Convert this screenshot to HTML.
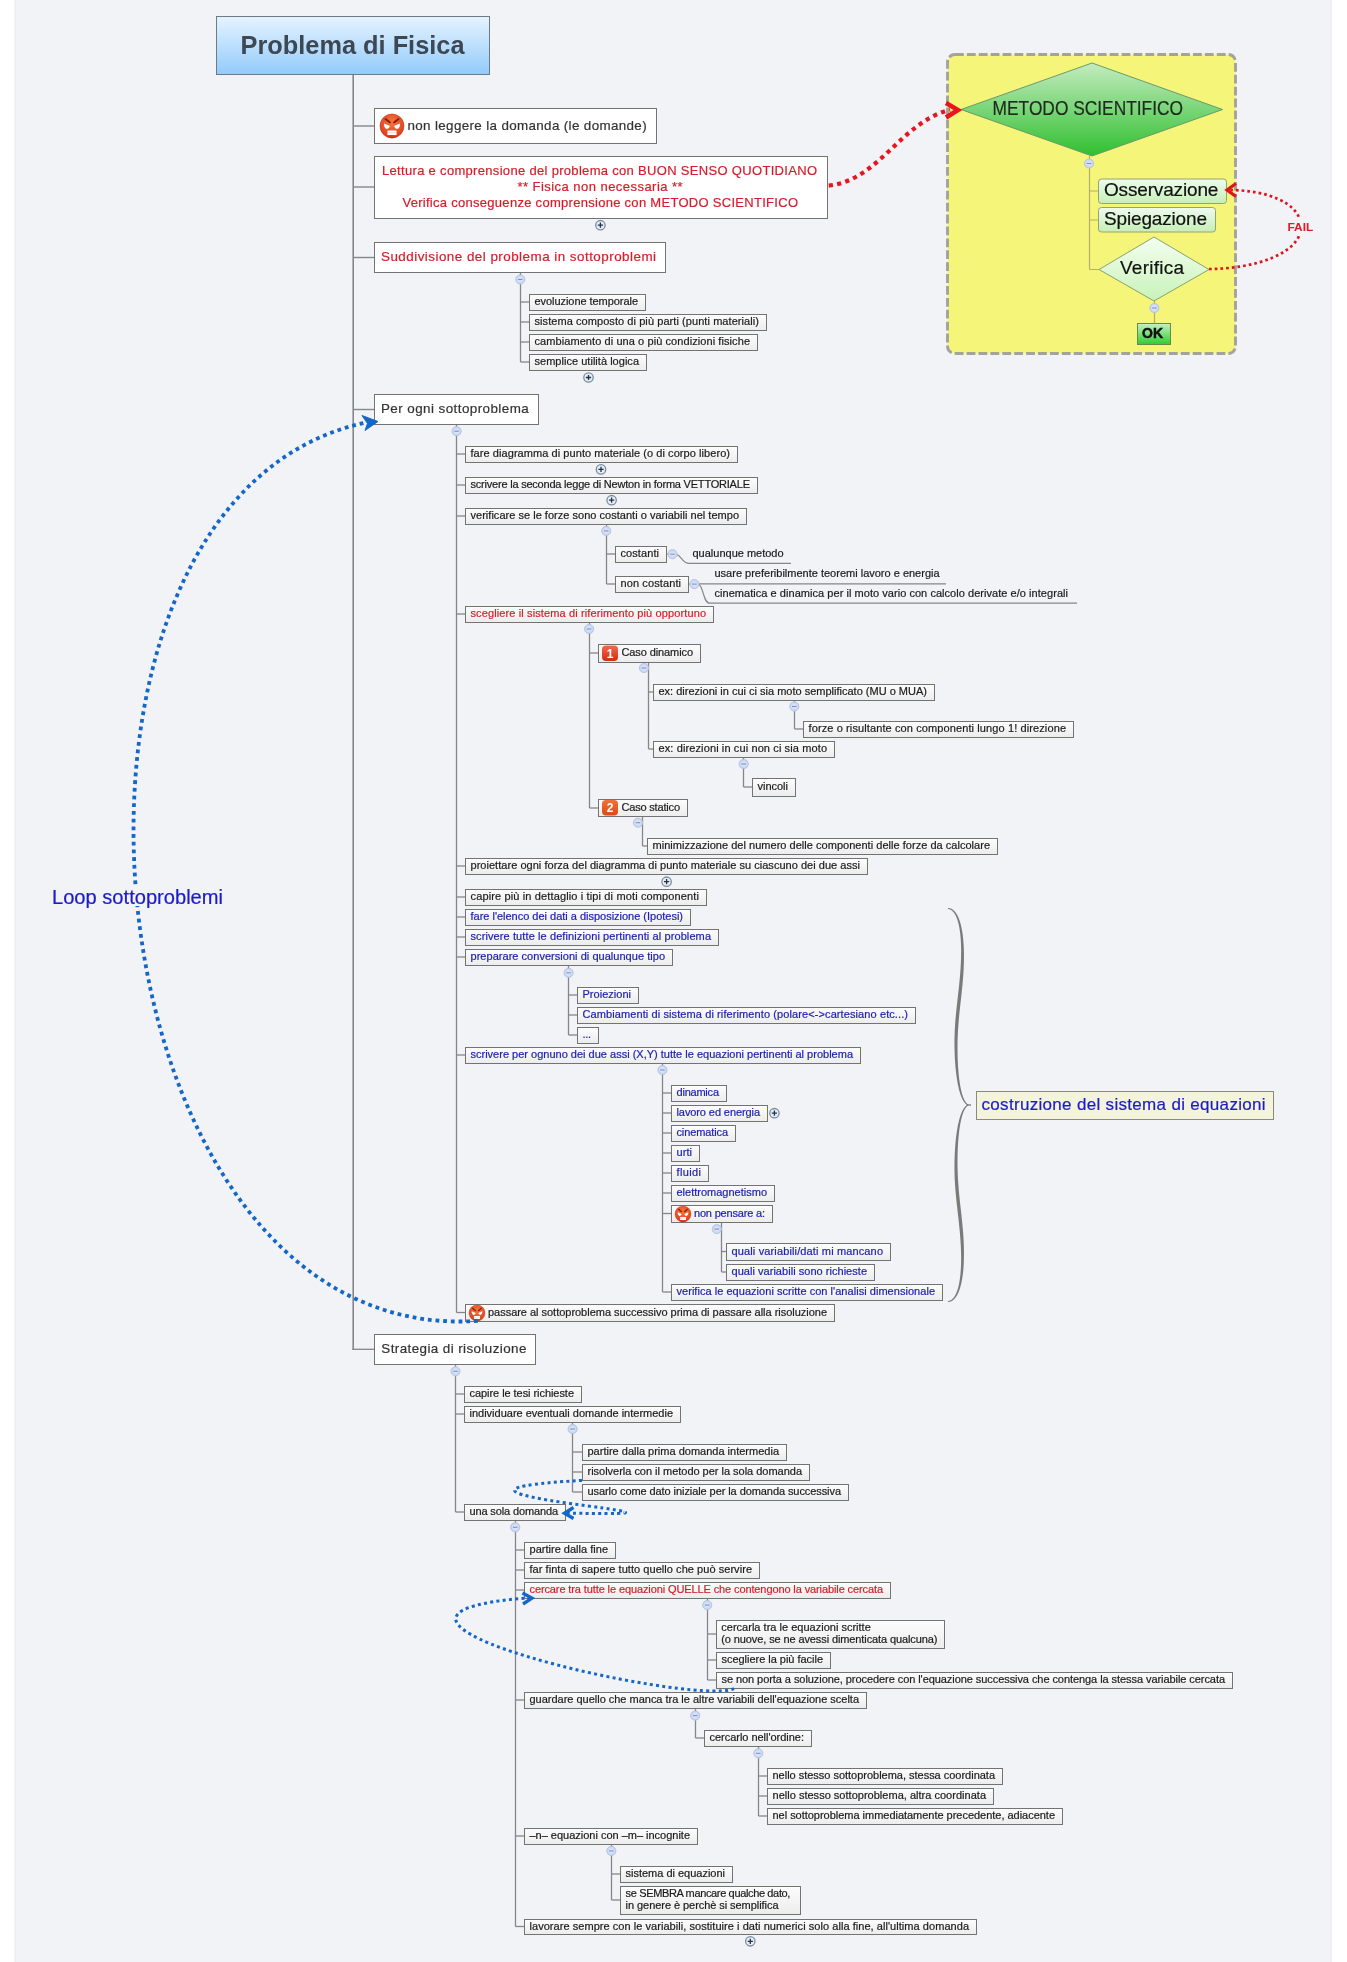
<!DOCTYPE html><html><head><meta charset="utf-8"><style>
html,body{margin:0;padding:0;background:#fff;}
body{width:1347px;height:1962px;position:relative;overflow:hidden;font-family:"Liberation Sans", sans-serif;}
svg{position:absolute;left:0;top:0;will-change:transform;}
text{font-family:"Liberation Sans", sans-serif;}
</style></head><body>
<svg width="1347" height="1962" viewBox="0 0 1347 1962">
<defs>
<linearGradient id="gS" x1="0" y1="0" x2="0" y2="1"><stop offset="0" stop-color="#fdfdfd"/><stop offset="1" stop-color="#ececec"/></linearGradient>
<linearGradient id="gRoot" x1="0" y1="0" x2="0" y2="1"><stop offset="0" stop-color="#e6f3ff"/><stop offset="1" stop-color="#92cbfb"/></linearGradient>
<linearGradient id="gDia" x1="0" y1="0" x2="0" y2="1"><stop offset="0" stop-color="#c4ecc0"/><stop offset="1" stop-color="#2fbf2f"/></linearGradient>
<linearGradient id="gDia2" x1="0" y1="0" x2="0" y2="1"><stop offset="0" stop-color="#f4fff0"/><stop offset="1" stop-color="#c8f2b8"/></linearGradient>
<linearGradient id="gOss" x1="0" y1="0" x2="0" y2="1"><stop offset="0" stop-color="#eefbee"/><stop offset="1" stop-color="#c6efb6"/></linearGradient>
<linearGradient id="gOK" x1="0" y1="0" x2="0" y2="1"><stop offset="0" stop-color="#c4f2c4"/><stop offset="1" stop-color="#30cc30"/></linearGradient>
<linearGradient id="gBadge1" x1="0" y1="0" x2="0" y2="1"><stop offset="0" stop-color="#f46a4a"/><stop offset="1" stop-color="#d42a16"/></linearGradient>
<linearGradient id="gBadge2" x1="0" y1="0" x2="0" y2="1"><stop offset="0" stop-color="#f27236"/><stop offset="1" stop-color="#d84c12"/></linearGradient>
<radialGradient id="gEmo" cx="0.5" cy="0.35" r="0.65"><stop offset="0" stop-color="#f5793f"/><stop offset="1" stop-color="#dc3b1e"/></radialGradient>
<radialGradient id="gMinus" cx="0.5" cy="0.5" r="0.5"><stop offset="0" stop-color="#e4ecff"/><stop offset="1" stop-color="#c3d2f0"/></radialGradient>
<marker id="mRed" viewBox="0 0 10 10" refX="8" refY="5" markerWidth="10" markerHeight="10" markerUnits="userSpaceOnUse" orient="auto"><path d="M1,1 L9,5 L1,9" fill="none" stroke="#e8141e" stroke-width="2.6"/></marker>
</defs>
<rect x="14.5" y="0" width="1317" height="1962" fill="#f2f3f7"/><rect x="14.5" y="0" width="1" height="1962" fill="#ececef"/><rect x="1330.5" y="0" width="1" height="1962" fill="#ececef"/>

<rect x="947.5" y="54.5" width="288" height="299" rx="7.5" ry="7.5" fill="#f5f57a" stroke="#a3a29c" stroke-width="2.9" stroke-dasharray="8.8,3.1"/>
<line x1="353.2" y1="74" x2="353.2" y2="1350" stroke="#86868a" stroke-width="1.6"/>
<line x1="353" y1="126" x2="374" y2="126" stroke="#86868a" stroke-width="1.4"/>
<line x1="353" y1="187" x2="374" y2="187" stroke="#86868a" stroke-width="1.4"/>
<line x1="353" y1="257.5" x2="374" y2="257.5" stroke="#86868a" stroke-width="1.4"/>
<line x1="353" y1="409.5" x2="374" y2="409.5" stroke="#86868a" stroke-width="1.4"/>
<line x1="352.4" y1="1349.3" x2="374" y2="1349.3" stroke="#86868a" stroke-width="1.3"/>
<path d="M520.5,272 V362 " fill="none" stroke="#86868a" stroke-width="1.3"/>
<line x1="520.5" y1="302" x2="529" y2="302" stroke="#86868a" stroke-width="1.3"/>
<line x1="520.5" y1="322" x2="529" y2="322" stroke="#86868a" stroke-width="1.3"/>
<line x1="520.5" y1="342" x2="529" y2="342" stroke="#86868a" stroke-width="1.3"/>
<line x1="520.5" y1="362" x2="529" y2="362" stroke="#86868a" stroke-width="1.3"/>
<path d="M456.5,424 V1312.5 " fill="none" stroke="#86868a" stroke-width="1.3"/>
<line x1="456.5" y1="454" x2="465" y2="454" stroke="#86868a" stroke-width="1.3"/>
<line x1="456.5" y1="485" x2="465" y2="485" stroke="#86868a" stroke-width="1.3"/>
<line x1="456.5" y1="516" x2="465" y2="516" stroke="#86868a" stroke-width="1.3"/>
<line x1="456.5" y1="614" x2="465" y2="614" stroke="#86868a" stroke-width="1.3"/>
<line x1="456.5" y1="866" x2="465" y2="866" stroke="#86868a" stroke-width="1.3"/>
<line x1="456.5" y1="897" x2="465" y2="897" stroke="#86868a" stroke-width="1.3"/>
<line x1="456.5" y1="917" x2="465" y2="917" stroke="#86868a" stroke-width="1.3"/>
<line x1="456.5" y1="937" x2="465" y2="937" stroke="#86868a" stroke-width="1.3"/>
<line x1="456.5" y1="957" x2="465" y2="957" stroke="#86868a" stroke-width="1.3"/>
<line x1="456.5" y1="1055" x2="465" y2="1055" stroke="#86868a" stroke-width="1.3"/>
<line x1="456.5" y1="1312.5" x2="465" y2="1312.5" stroke="#86868a" stroke-width="1.3"/>
<path d="M606.5,524 V584 " fill="none" stroke="#86868a" stroke-width="1.3"/>
<line x1="606.5" y1="554" x2="615" y2="554" stroke="#86868a" stroke-width="1.3"/>
<line x1="606.5" y1="584" x2="615" y2="584" stroke="#86868a" stroke-width="1.3"/>
<path d="M589.5,622 V808 " fill="none" stroke="#86868a" stroke-width="1.3"/>
<line x1="589.5" y1="653" x2="598" y2="653" stroke="#86868a" stroke-width="1.3"/>
<line x1="589.5" y1="808" x2="598" y2="808" stroke="#86868a" stroke-width="1.3"/>
<path d="M648.5,662 V749 " fill="none" stroke="#86868a" stroke-width="1.3"/>
<line x1="648.5" y1="692" x2="653" y2="692" stroke="#86868a" stroke-width="1.3"/>
<line x1="648.5" y1="749" x2="653" y2="749" stroke="#86868a" stroke-width="1.3"/>
<path d="M794.5,700 V729 " fill="none" stroke="#86868a" stroke-width="1.3"/>
<line x1="794.5" y1="729" x2="803" y2="729" stroke="#86868a" stroke-width="1.3"/>
<path d="M743.5,757 V787 " fill="none" stroke="#86868a" stroke-width="1.3"/>
<line x1="743.5" y1="787" x2="752" y2="787" stroke="#86868a" stroke-width="1.3"/>
<path d="M642.5,817 V846 " fill="none" stroke="#86868a" stroke-width="1.3"/>
<line x1="642.5" y1="846" x2="647" y2="846" stroke="#86868a" stroke-width="1.3"/>
<path d="M568.5,965 V1035 " fill="none" stroke="#86868a" stroke-width="1.3"/>
<line x1="568.5" y1="995" x2="577" y2="995" stroke="#86868a" stroke-width="1.3"/>
<line x1="568.5" y1="1015" x2="577" y2="1015" stroke="#86868a" stroke-width="1.3"/>
<line x1="568.5" y1="1035" x2="577" y2="1035" stroke="#86868a" stroke-width="1.3"/>
<path d="M662.5,1063 V1292 " fill="none" stroke="#86868a" stroke-width="1.3"/>
<line x1="662.5" y1="1093" x2="671" y2="1093" stroke="#86868a" stroke-width="1.3"/>
<line x1="662.5" y1="1113" x2="671" y2="1113" stroke="#86868a" stroke-width="1.3"/>
<line x1="662.5" y1="1133" x2="671" y2="1133" stroke="#86868a" stroke-width="1.3"/>
<line x1="662.5" y1="1153" x2="671" y2="1153" stroke="#86868a" stroke-width="1.3"/>
<line x1="662.5" y1="1173" x2="671" y2="1173" stroke="#86868a" stroke-width="1.3"/>
<line x1="662.5" y1="1193" x2="671" y2="1193" stroke="#86868a" stroke-width="1.3"/>
<line x1="662.5" y1="1213.5" x2="671" y2="1213.5" stroke="#86868a" stroke-width="1.3"/>
<line x1="662.5" y1="1292" x2="671" y2="1292" stroke="#86868a" stroke-width="1.3"/>
<path d="M721.5,1222 V1272 " fill="none" stroke="#86868a" stroke-width="1.3"/>
<line x1="721.5" y1="1251.5" x2="726" y2="1251.5" stroke="#86868a" stroke-width="1.3"/>
<line x1="721.5" y1="1272" x2="726" y2="1272" stroke="#86868a" stroke-width="1.3"/>
<path d="M455.5,1364 V1512 " fill="none" stroke="#86868a" stroke-width="1.3"/>
<line x1="455.5" y1="1394" x2="464" y2="1394" stroke="#86868a" stroke-width="1.3"/>
<line x1="455.5" y1="1414" x2="464" y2="1414" stroke="#86868a" stroke-width="1.3"/>
<line x1="455.5" y1="1512" x2="464" y2="1512" stroke="#86868a" stroke-width="1.3"/>
<path d="M572.5,1422 V1492 " fill="none" stroke="#86868a" stroke-width="1.3"/>
<line x1="572.5" y1="1452" x2="582" y2="1452" stroke="#86868a" stroke-width="1.3"/>
<line x1="572.5" y1="1472" x2="582" y2="1472" stroke="#86868a" stroke-width="1.3"/>
<line x1="572.5" y1="1492" x2="582" y2="1492" stroke="#86868a" stroke-width="1.3"/>
<path d="M515.5,1520 V1926.5 " fill="none" stroke="#86868a" stroke-width="1.3"/>
<line x1="515.5" y1="1550" x2="524" y2="1550" stroke="#86868a" stroke-width="1.3"/>
<line x1="515.5" y1="1570" x2="524" y2="1570" stroke="#86868a" stroke-width="1.3"/>
<line x1="515.5" y1="1590" x2="524" y2="1590" stroke="#86868a" stroke-width="1.3"/>
<line x1="515.5" y1="1700" x2="524" y2="1700" stroke="#86868a" stroke-width="1.3"/>
<line x1="515.5" y1="1836" x2="524" y2="1836" stroke="#86868a" stroke-width="1.3"/>
<line x1="515.5" y1="1926.5" x2="524" y2="1926.5" stroke="#86868a" stroke-width="1.3"/>
<path d="M707.5,1598 V1680 " fill="none" stroke="#86868a" stroke-width="1.3"/>
<line x1="707.5" y1="1634" x2="716" y2="1634" stroke="#86868a" stroke-width="1.3"/>
<line x1="707.5" y1="1660" x2="716" y2="1660" stroke="#86868a" stroke-width="1.3"/>
<line x1="707.5" y1="1680" x2="716" y2="1680" stroke="#86868a" stroke-width="1.3"/>
<path d="M695.5,1708 V1738 " fill="none" stroke="#86868a" stroke-width="1.3"/>
<line x1="695.5" y1="1738" x2="704" y2="1738" stroke="#86868a" stroke-width="1.3"/>
<path d="M758.5,1746 V1816 " fill="none" stroke="#86868a" stroke-width="1.3"/>
<line x1="758.5" y1="1776" x2="767" y2="1776" stroke="#86868a" stroke-width="1.3"/>
<line x1="758.5" y1="1796" x2="767" y2="1796" stroke="#86868a" stroke-width="1.3"/>
<line x1="758.5" y1="1816" x2="767" y2="1816" stroke="#86868a" stroke-width="1.3"/>
<path d="M611.5,1844 V1900 " fill="none" stroke="#86868a" stroke-width="1.3"/>
<line x1="611.5" y1="1874" x2="620" y2="1874" stroke="#86868a" stroke-width="1.3"/>
<line x1="611.5" y1="1900" x2="620" y2="1900" stroke="#86868a" stroke-width="1.3"/>
<path d="M666,554.2 H672 M677,554.5 C681,556 683,563.4 689,563.4 H791" fill="none" stroke="#86868a" stroke-width="1.2"/>
<path d="M688,584.2 H694 M699,583.9 H946 M699,584.5 C704,588 703,603.2 710,603.2 H1077" fill="none" stroke="#86868a" stroke-width="1.2"/>
<path d="M947.96,908.95 L948.40,909.02 L948.81,909.11 L949.22,909.21 L949.61,909.34 L950.00,909.49 L950.39,909.66 L950.76,909.86 L951.13,910.07 L951.49,910.32 L951.85,910.58 L952.20,910.87 L952.54,911.18 L952.88,911.51 L953.22,911.87 L953.54,912.25 L953.86,912.65 L954.18,913.08 L954.49,913.53 L954.79,914.01 L955.08,914.51 L955.37,915.03 L955.66,915.57 L955.93,916.14 L956.20,916.73 L956.46,917.34 L956.72,917.97 L956.97,918.63 L957.21,919.30 L957.45,920.00 L957.68,920.72 L957.90,921.46 L958.11,922.23 L958.32,923.01 L958.52,923.81 L958.71,924.64 L958.89,925.48 L959.07,926.35 L959.24,927.23 L959.41,928.13 L959.56,929.06 L959.71,930.00 L959.85,930.96 L959.99,931.94 L960.11,932.94 L960.23,933.96 L960.34,934.99 L960.45,936.05 L960.55,937.12 L960.63,938.21 L960.72,939.32 L960.79,940.44 L960.86,941.58 L960.92,942.74 L960.97,943.91 L961.01,945.10 L961.05,946.31 L961.08,947.53 L961.10,948.77 L961.12,950.02 L961.12,951.78 L961.10,953.53 L961.08,955.25 L961.05,956.97 L961.00,958.67 L960.95,960.35 L960.88,962.02 L960.81,963.68 L960.72,965.32 L960.63,966.95 L960.53,968.58 L960.43,970.19 L960.31,971.79 L960.19,973.38 L960.07,974.96 L959.93,976.54 L959.79,978.11 L959.65,979.67 L959.50,981.22 L959.35,982.77 L959.19,984.31 L959.03,985.85 L958.87,987.39 L958.70,988.92 L958.53,990.45 L958.36,991.97 L958.19,993.50 L958.02,995.02 L957.84,996.55 L957.67,998.07 L957.49,999.60 L957.32,1001.13 L957.15,1002.65 L956.98,1004.19 L956.81,1005.72 L956.64,1007.26 L956.48,1008.80 L956.32,1010.35 L956.16,1011.90 L956.01,1013.46 L955.86,1015.03 L955.72,1016.60 L955.58,1018.19 L955.45,1019.78 L955.32,1021.37 L955.20,1022.98 L955.09,1024.60 L954.99,1026.23 L954.89,1027.87 L954.80,1029.52 L954.72,1031.18 L954.65,1032.86 L954.59,1034.55 L954.54,1036.25 L954.50,1037.97 L954.47,1039.70 L954.46,1041.45 L954.45,1043.22 L954.46,1045.00 L954.48,1046.53 L954.50,1048.05 L954.53,1049.56 L954.57,1051.07 L954.62,1052.56 L954.67,1054.05 L954.73,1055.53 L954.80,1056.99 L954.87,1058.45 L954.95,1059.89 L955.04,1061.32 L955.14,1062.74 L955.24,1064.14 L955.35,1065.53 L955.47,1066.91 L955.59,1068.27 L955.73,1069.62 L955.87,1070.95 L956.01,1072.26 L956.17,1073.56 L956.33,1074.84 L956.49,1076.10 L956.67,1077.34 L956.85,1078.57 L957.04,1079.77 L957.24,1080.96 L957.44,1082.12 L957.65,1083.27 L957.87,1084.39 L958.09,1085.49 L958.32,1086.56 L958.56,1087.62 L958.81,1088.65 L959.06,1089.65 L959.32,1090.64 L959.58,1091.59 L959.86,1092.52 L960.14,1093.43 L960.43,1094.31 L960.72,1095.16 L961.02,1095.98 L961.33,1096.77 L961.65,1097.54 L961.97,1098.28 L962.30,1098.98 L962.64,1099.66 L962.99,1100.31 L963.34,1100.92 L963.71,1101.51 L964.07,1102.06 L964.45,1102.57 L964.84,1103.06 L965.23,1103.51 L965.64,1103.92 L966.05,1104.30 L966.47,1104.64 L966.90,1104.94 L967.34,1105.20 L967.78,1105.39 L968.22,1104.61 L967.85,1104.36 L967.50,1104.10 L967.15,1103.81 L966.81,1103.48 L966.47,1103.12 L966.13,1102.73 L965.80,1102.30 L965.48,1101.84 L965.16,1101.34 L964.85,1100.81 L964.54,1100.25 L964.24,1099.65 L963.95,1099.03 L963.66,1098.37 L963.37,1097.68 L963.10,1096.96 L962.83,1096.21 L962.57,1095.43 L962.31,1094.63 L962.06,1093.79 L961.82,1092.93 L961.58,1092.04 L961.35,1091.12 L961.13,1090.18 L960.91,1089.21 L960.70,1088.22 L960.50,1087.21 L960.30,1086.16 L960.11,1085.10 L959.93,1084.01 L959.76,1082.90 L959.59,1081.77 L959.42,1080.62 L959.27,1079.45 L959.12,1078.26 L958.98,1077.05 L958.84,1075.81 L958.71,1074.57 L958.59,1073.30 L958.48,1072.01 L958.37,1070.71 L958.27,1069.39 L958.17,1068.06 L958.08,1066.71 L958.00,1065.35 L957.92,1063.97 L957.86,1062.58 L957.79,1061.17 L957.74,1059.75 L957.69,1058.33 L957.65,1056.88 L957.61,1055.43 L957.58,1053.97 L957.56,1052.50 L957.54,1051.01 L957.53,1049.52 L957.53,1048.02 L957.53,1046.51 L957.54,1045.00 L957.56,1043.24 L957.59,1041.50 L957.63,1039.77 L957.68,1038.05 L957.74,1036.36 L957.81,1034.67 L957.89,1033.00 L957.98,1031.35 L958.07,1029.70 L958.18,1028.07 L958.29,1026.45 L958.40,1024.83 L958.53,1023.23 L958.66,1021.64 L958.79,1020.06 L958.93,1018.48 L959.08,1016.91 L959.23,1015.35 L959.38,1013.79 L959.54,1012.25 L959.69,1010.70 L959.86,1009.16 L960.02,1007.62 L960.19,1006.09 L960.36,1004.56 L960.53,1003.03 L960.70,1001.50 L960.87,999.98 L961.04,998.45 L961.20,996.93 L961.37,995.40 L961.54,993.87 L961.70,992.34 L961.87,990.81 L962.03,989.27 L962.18,987.73 L962.34,986.19 L962.48,984.64 L962.63,983.08 L962.77,981.52 L962.90,979.95 L963.03,978.38 L963.15,976.80 L963.27,975.21 L963.37,973.61 L963.47,972.00 L963.57,970.38 L963.65,968.75 L963.72,967.11 L963.79,965.46 L963.85,963.79 L963.89,962.12 L963.93,960.43 L963.95,958.72 L963.96,957.01 L963.96,955.27 L963.95,953.53 L963.92,951.76 L963.88,949.98 L963.84,948.70 L963.79,947.44 L963.73,946.20 L963.66,944.98 L963.58,943.77 L963.50,942.58 L963.41,941.41 L963.31,940.25 L963.20,939.11 L963.09,937.98 L962.96,936.88 L962.83,935.79 L962.69,934.72 L962.55,933.66 L962.40,932.63 L962.23,931.61 L962.07,930.61 L961.89,929.63 L961.70,928.67 L961.51,927.73 L961.31,926.81 L961.11,925.90 L960.89,925.02 L960.67,924.16 L960.44,923.31 L960.20,922.49 L959.96,921.68 L959.71,920.90 L959.45,920.14 L959.18,919.40 L958.90,918.68 L958.62,917.98 L958.33,917.30 L958.03,916.64 L957.73,916.01 L957.41,915.40 L957.09,914.80 L956.76,914.24 L956.42,913.69 L956.08,913.17 L955.73,912.67 L955.37,912.19 L955.00,911.74 L954.62,911.31 L954.23,910.91 L953.84,910.53 L953.44,910.17 L953.03,909.84 L952.61,909.54 L952.18,909.26 L951.75,909.01 L951.31,908.79 L950.86,908.59 L950.40,908.42 L949.94,908.29 L949.47,908.18 L948.99,908.10 L948.51,908.05 L948.04,908.05 Z M948.04,1301.95 L948.51,1301.95 L948.99,1301.90 L949.47,1301.82 L949.94,1301.71 L950.40,1301.58 L950.86,1301.41 L951.31,1301.21 L951.75,1300.99 L952.18,1300.74 L952.61,1300.46 L953.03,1300.16 L953.44,1299.83 L953.84,1299.47 L954.23,1299.09 L954.62,1298.69 L955.00,1298.26 L955.37,1297.81 L955.73,1297.33 L956.08,1296.83 L956.42,1296.31 L956.76,1295.76 L957.09,1295.20 L957.41,1294.60 L957.73,1293.99 L958.03,1293.36 L958.33,1292.70 L958.62,1292.02 L958.90,1291.32 L959.18,1290.60 L959.45,1289.86 L959.71,1289.10 L959.96,1288.32 L960.20,1287.51 L960.44,1286.69 L960.67,1285.84 L960.89,1284.98 L961.11,1284.10 L961.31,1283.19 L961.51,1282.27 L961.70,1281.33 L961.89,1280.37 L962.07,1279.39 L962.23,1278.39 L962.40,1277.37 L962.55,1276.34 L962.69,1275.28 L962.83,1274.21 L962.96,1273.12 L963.09,1272.02 L963.20,1270.89 L963.31,1269.75 L963.41,1268.59 L963.50,1267.42 L963.58,1266.23 L963.66,1265.02 L963.73,1263.80 L963.79,1262.56 L963.84,1261.30 L963.88,1260.02 L963.92,1258.24 L963.95,1256.47 L963.96,1254.73 L963.96,1252.99 L963.95,1251.28 L963.93,1249.57 L963.89,1247.88 L963.85,1246.21 L963.79,1244.54 L963.72,1242.89 L963.65,1241.25 L963.57,1239.62 L963.47,1238.00 L963.37,1236.39 L963.27,1234.79 L963.15,1233.20 L963.03,1231.62 L962.90,1230.05 L962.77,1228.48 L962.63,1226.92 L962.48,1225.36 L962.34,1223.81 L962.18,1222.27 L962.03,1220.73 L961.87,1219.19 L961.70,1217.66 L961.54,1216.13 L961.37,1214.60 L961.20,1213.07 L961.04,1211.55 L960.87,1210.02 L960.70,1208.50 L960.53,1206.97 L960.36,1205.44 L960.19,1203.91 L960.02,1202.38 L959.86,1200.84 L959.69,1199.30 L959.54,1197.75 L959.38,1196.21 L959.23,1194.65 L959.08,1193.09 L958.93,1191.52 L958.79,1189.94 L958.66,1188.36 L958.53,1186.77 L958.40,1185.17 L958.29,1183.55 L958.18,1181.93 L958.07,1180.30 L957.98,1178.65 L957.89,1177.00 L957.81,1175.33 L957.74,1173.64 L957.68,1171.95 L957.63,1170.23 L957.59,1168.50 L957.56,1166.76 L957.54,1165.00 L957.53,1163.49 L957.53,1161.98 L957.53,1160.48 L957.54,1158.99 L957.56,1157.50 L957.58,1156.03 L957.61,1154.57 L957.65,1153.12 L957.69,1151.67 L957.74,1150.25 L957.79,1148.83 L957.86,1147.42 L957.92,1146.03 L958.00,1144.65 L958.08,1143.29 L958.17,1141.94 L958.27,1140.61 L958.37,1139.29 L958.48,1137.99 L958.59,1136.70 L958.71,1135.43 L958.84,1134.19 L958.98,1132.95 L959.12,1131.74 L959.27,1130.55 L959.42,1129.38 L959.59,1128.23 L959.76,1127.10 L959.93,1125.99 L960.11,1124.90 L960.30,1123.84 L960.50,1122.79 L960.70,1121.78 L960.91,1120.79 L961.13,1119.82 L961.35,1118.88 L961.58,1117.96 L961.82,1117.07 L962.06,1116.21 L962.31,1115.37 L962.57,1114.57 L962.83,1113.79 L963.10,1113.04 L963.37,1112.32 L963.66,1111.63 L963.95,1110.97 L964.24,1110.35 L964.54,1109.75 L964.85,1109.19 L965.16,1108.66 L965.48,1108.16 L965.80,1107.70 L966.13,1107.27 L966.47,1106.88 L966.81,1106.52 L967.15,1106.19 L967.50,1105.90 L967.85,1105.64 L968.22,1105.39 L967.78,1104.61 L967.34,1104.80 L966.90,1105.06 L966.47,1105.36 L966.05,1105.70 L965.64,1106.08 L965.23,1106.49 L964.84,1106.94 L964.45,1107.43 L964.07,1107.94 L963.71,1108.49 L963.34,1109.08 L962.99,1109.69 L962.64,1110.34 L962.30,1111.02 L961.97,1111.72 L961.65,1112.46 L961.33,1113.23 L961.02,1114.02 L960.72,1114.84 L960.43,1115.69 L960.14,1116.57 L959.86,1117.48 L959.58,1118.41 L959.32,1119.36 L959.06,1120.35 L958.81,1121.35 L958.56,1122.38 L958.32,1123.44 L958.09,1124.51 L957.87,1125.61 L957.65,1126.73 L957.44,1127.88 L957.24,1129.04 L957.04,1130.23 L956.85,1131.43 L956.67,1132.66 L956.49,1133.90 L956.33,1135.16 L956.17,1136.44 L956.01,1137.74 L955.87,1139.05 L955.73,1140.38 L955.59,1141.73 L955.47,1143.09 L955.35,1144.47 L955.24,1145.86 L955.14,1147.26 L955.04,1148.68 L954.95,1150.11 L954.87,1151.55 L954.80,1153.01 L954.73,1154.47 L954.67,1155.95 L954.62,1157.44 L954.57,1158.93 L954.53,1160.44 L954.50,1161.95 L954.48,1163.47 L954.46,1165.00 L954.45,1166.78 L954.46,1168.55 L954.47,1170.30 L954.50,1172.03 L954.54,1173.75 L954.59,1175.45 L954.65,1177.14 L954.72,1178.82 L954.80,1180.48 L954.89,1182.13 L954.99,1183.77 L955.09,1185.40 L955.20,1187.02 L955.32,1188.63 L955.45,1190.22 L955.58,1191.81 L955.72,1193.40 L955.86,1194.97 L956.01,1196.54 L956.16,1198.10 L956.32,1199.65 L956.48,1201.20 L956.64,1202.74 L956.81,1204.28 L956.98,1205.81 L957.15,1207.35 L957.32,1208.87 L957.49,1210.40 L957.67,1211.93 L957.84,1213.45 L958.02,1214.98 L958.19,1216.50 L958.36,1218.03 L958.53,1219.55 L958.70,1221.08 L958.87,1222.61 L959.03,1224.15 L959.19,1225.69 L959.35,1227.23 L959.50,1228.78 L959.65,1230.33 L959.79,1231.89 L959.93,1233.46 L960.07,1235.04 L960.19,1236.62 L960.31,1238.21 L960.43,1239.81 L960.53,1241.42 L960.63,1243.05 L960.72,1244.68 L960.81,1246.32 L960.88,1247.98 L960.95,1249.65 L961.00,1251.33 L961.05,1253.03 L961.08,1254.75 L961.10,1256.47 L961.12,1258.22 L961.12,1259.98 L961.10,1261.23 L961.08,1262.47 L961.05,1263.69 L961.01,1264.90 L960.97,1266.09 L960.92,1267.26 L960.86,1268.42 L960.79,1269.56 L960.72,1270.68 L960.63,1271.79 L960.55,1272.88 L960.45,1273.95 L960.34,1275.01 L960.23,1276.04 L960.11,1277.06 L959.99,1278.06 L959.85,1279.04 L959.71,1280.00 L959.56,1280.94 L959.41,1281.87 L959.24,1282.77 L959.07,1283.65 L958.89,1284.52 L958.71,1285.36 L958.52,1286.19 L958.32,1286.99 L958.11,1287.77 L957.90,1288.54 L957.68,1289.28 L957.45,1290.00 L957.21,1290.70 L956.97,1291.37 L956.72,1292.03 L956.46,1292.66 L956.20,1293.27 L955.93,1293.86 L955.66,1294.43 L955.37,1294.97 L955.08,1295.49 L954.79,1295.99 L954.49,1296.47 L954.18,1296.92 L953.86,1297.35 L953.54,1297.75 L953.22,1298.13 L952.88,1298.49 L952.54,1298.82 L952.20,1299.13 L951.85,1299.42 L951.49,1299.68 L951.13,1299.93 L950.76,1300.14 L950.39,1300.34 L950.00,1300.51 L949.61,1300.66 L949.22,1300.79 L948.81,1300.89 L948.40,1300.98 L947.96,1301.05 Z" fill="#7a7a7a"/>
<path d="M967,1105 H971" stroke="#7a7a7a" stroke-width="1.4"/>
<rect x="976.5" y="1091.5" width="297" height="28" fill="#f4f4dc" stroke="#8a8a80" stroke-width="1"/>
<polygon points="961,109.5 1092,63 1222.5,109.5 1092,156" fill="url(#gDia)" stroke="#6a9a6a" stroke-width="1"/>
<path d="M1089.5,156 V269.5 M1089.5,191 H1098 M1089.5,220 H1098 M1089.5,269.5 H1099 M1154.5,301 V323" fill="none" stroke="#b4ae6a" stroke-width="1.2"/>
<rect x="1098.5" y="179" width="128" height="24.5" rx="3" fill="url(#gOss)" stroke="#97a070" stroke-width="1"/>
<rect x="1098.5" y="207.5" width="117" height="24.5" rx="3" fill="url(#gOss)" stroke="#97a070" stroke-width="1"/>
<polygon points="1099,269.5 1154,237 1209,269.5 1154,301" fill="url(#gDia2)" stroke="#8aa070" stroke-width="1"/>
<rect x="1137.5" y="323.5" width="33" height="21" fill="url(#gOK)" stroke="#6a8a48" stroke-width="1"/>
<rect x="216.5" y="16.5" width="273" height="58" fill="url(#gRoot)" stroke="#6d7b88" stroke-width="1"/>
<text x="352.5" y="54" font-size="25" font-weight="bold" fill="#3d4853" text-anchor="middle" textLength="224" lengthAdjust="spacingAndGlyphs">Problema di Fisica</text>
<rect x="374.5" y="108.5" width="282" height="35" fill="#fff" stroke="#737373" stroke-width="1"/>
<text x="407.5" y="130.3" font-size="13.4" font-weight="normal" fill="#333" stroke="#333" stroke-width="0.2" textLength="239.1" lengthAdjust="spacing">non leggere la domanda (le domande)</text>
<rect x="374.5" y="156.5" width="453" height="62" fill="#fff" stroke="#737373" stroke-width="1"/>
<text x="382.0" y="175.2" font-size="13" font-weight="normal" fill="#d41e2a" stroke="#d41e2a" stroke-width="0.2" textLength="435.0" lengthAdjust="spacing">Lettura e comprensione del problema con BUON SENSO QUOTIDIANO</text>
<text x="517.4" y="191.3" font-size="13" font-weight="normal" fill="#d41e2a" stroke="#d41e2a" stroke-width="0.2" textLength="165.2" lengthAdjust="spacing">** Fisica non necessaria **</text>
<text x="402.4" y="207.4" font-size="13" font-weight="normal" fill="#d41e2a" stroke="#d41e2a" stroke-width="0.2" textLength="395.6" lengthAdjust="spacing">Verifica conseguenze comprensione con METODO SCIENTIFICO</text>
<rect x="374.5" y="242.5" width="291" height="30" fill="#fff" stroke="#737373" stroke-width="1"/>
<text x="381.0" y="261.0" font-size="13.4" font-weight="normal" fill="#d41e2a" stroke="#d41e2a" stroke-width="0.2" textLength="275.0" lengthAdjust="spacing">Suddivisione del problema in sottoproblemi</text>
<rect x="374.5" y="394.5" width="164" height="30" fill="#fff" stroke="#737373" stroke-width="1"/>
<text x="381.0" y="412.7" font-size="13.4" font-weight="normal" fill="#333" stroke="#333" stroke-width="0.2" textLength="147.7" lengthAdjust="spacing">Per ogni sottoproblema</text>
<rect x="374.5" y="1334.5" width="161" height="30" fill="#fff" stroke="#737373" stroke-width="1"/>
<text x="381.3" y="1353.0" font-size="13.4" font-weight="normal" fill="#333" stroke="#333" stroke-width="0.2" textLength="145.1" lengthAdjust="spacing">Strategia di risoluzione</text>
<rect x="529.5" y="294.5" width="116" height="16" fill="url(#gS)" stroke="#737373" stroke-width="1"/>
<text x="534.5" y="304.6" font-size="11" font-weight="normal" fill="#1b1b1b" stroke="#1b1b1b" stroke-width="0.2" textLength="103.5" lengthAdjust="spacing">evoluzione temporale</text>
<rect x="529.5" y="314.5" width="237" height="16" fill="url(#gS)" stroke="#737373" stroke-width="1"/>
<text x="534.5" y="324.6" font-size="11" font-weight="normal" fill="#1b1b1b" stroke="#1b1b1b" stroke-width="0.2" textLength="224.5" lengthAdjust="spacing">sistema composto di più parti (punti materiali)</text>
<rect x="529.5" y="334.5" width="228" height="16" fill="url(#gS)" stroke="#737373" stroke-width="1"/>
<text x="534.5" y="344.6" font-size="11" font-weight="normal" fill="#1b1b1b" stroke="#1b1b1b" stroke-width="0.2" textLength="215.5" lengthAdjust="spacing">cambiamento di una o più condizioni fisiche</text>
<rect x="529.5" y="354.5" width="117" height="16" fill="url(#gS)" stroke="#737373" stroke-width="1"/>
<text x="534.5" y="364.6" font-size="11" font-weight="normal" fill="#1b1b1b" stroke="#1b1b1b" stroke-width="0.2" textLength="104.5" lengthAdjust="spacing">semplice utilità logica</text>
<rect x="465.5" y="446.5" width="272" height="16" fill="url(#gS)" stroke="#737373" stroke-width="1"/>
<text x="470.5" y="456.6" font-size="11" font-weight="normal" fill="#1b1b1b" stroke="#1b1b1b" stroke-width="0.2" textLength="259.5" lengthAdjust="spacing">fare diagramma di punto materiale (o di corpo libero)</text>
<rect x="465.5" y="477.5" width="292" height="16" fill="url(#gS)" stroke="#737373" stroke-width="1"/>
<text x="470.5" y="487.6" font-size="11" font-weight="normal" fill="#1b1b1b" stroke="#1b1b1b" stroke-width="0.2" textLength="279.5" lengthAdjust="spacing">scrivere la seconda legge di Newton in forma VETTORIALE</text>
<rect x="465.5" y="508.5" width="281" height="16" fill="url(#gS)" stroke="#737373" stroke-width="1"/>
<text x="470.5" y="518.6" font-size="11" font-weight="normal" fill="#1b1b1b" stroke="#1b1b1b" stroke-width="0.2" textLength="268.5" lengthAdjust="spacing">verificare se le forze sono costanti o variabili nel tempo</text>
<rect x="615.5" y="546.5" width="51" height="16" fill="url(#gS)" stroke="#737373" stroke-width="1"/>
<text x="620.5" y="556.6" font-size="11" font-weight="normal" fill="#1b1b1b" stroke="#1b1b1b" stroke-width="0.2" textLength="38.5" lengthAdjust="spacing">costanti</text>
<rect x="615.5" y="576.5" width="73" height="16" fill="url(#gS)" stroke="#737373" stroke-width="1"/>
<text x="620.5" y="586.6" font-size="11" font-weight="normal" fill="#1b1b1b" stroke="#1b1b1b" stroke-width="0.2" textLength="60.5" lengthAdjust="spacing">non costanti</text>
<rect x="465.5" y="606.5" width="248" height="16" fill="url(#gS)" stroke="#737373" stroke-width="1"/>
<text x="470.5" y="616.6" font-size="11" font-weight="normal" fill="#d41e2a" stroke="#d41e2a" stroke-width="0.2" textLength="235.5" lengthAdjust="spacing">scegliere il sistema di riferimento più opportuno</text>
<rect x="598.5" y="644.5" width="102" height="18" fill="url(#gS)" stroke="#737373" stroke-width="1"/>
<text x="621.5" y="655.6" font-size="11" font-weight="normal" fill="#1b1b1b" stroke="#1b1b1b" stroke-width="0.2" textLength="71.5" lengthAdjust="spacing">Caso dinamico</text>
<rect x="653.5" y="684.5" width="281" height="16" fill="url(#gS)" stroke="#737373" stroke-width="1"/>
<text x="658.5" y="694.6" font-size="11" font-weight="normal" fill="#1b1b1b" stroke="#1b1b1b" stroke-width="0.2" textLength="268.5" lengthAdjust="spacing">ex: direzioni in cui ci sia moto semplificato (MU o MUA)</text>
<rect x="803.5" y="721.5" width="270" height="16" fill="url(#gS)" stroke="#737373" stroke-width="1"/>
<text x="808.5" y="731.6" font-size="11" font-weight="normal" fill="#1b1b1b" stroke="#1b1b1b" stroke-width="0.2" textLength="257.5" lengthAdjust="spacing">forze o risultante con componenti lungo 1! direzione</text>
<rect x="653.5" y="741.5" width="181" height="16" fill="url(#gS)" stroke="#737373" stroke-width="1"/>
<text x="658.5" y="751.6" font-size="11" font-weight="normal" fill="#1b1b1b" stroke="#1b1b1b" stroke-width="0.2" textLength="168.5" lengthAdjust="spacing">ex: direzioni in cui non ci sia moto</text>
<rect x="752.5" y="778.5" width="43" height="18" fill="url(#gS)" stroke="#737373" stroke-width="1"/>
<text x="757.5" y="789.6" font-size="11" font-weight="normal" fill="#1b1b1b" stroke="#1b1b1b" stroke-width="0.2" textLength="30.5" lengthAdjust="spacing">vincoli</text>
<rect x="598.5" y="799.5" width="89" height="17" fill="url(#gS)" stroke="#737373" stroke-width="1"/>
<text x="621.5" y="810.6" font-size="11" font-weight="normal" fill="#1b1b1b" stroke="#1b1b1b" stroke-width="0.2" textLength="58.5" lengthAdjust="spacing">Caso statico</text>
<rect x="647.5" y="838.5" width="350" height="16" fill="url(#gS)" stroke="#737373" stroke-width="1"/>
<text x="652.5" y="848.6" font-size="11" font-weight="normal" fill="#1b1b1b" stroke="#1b1b1b" stroke-width="0.2" textLength="337.5" lengthAdjust="spacing">minimizzazione del numero delle componenti delle forze da calcolare</text>
<rect x="465.5" y="858.5" width="402" height="16" fill="url(#gS)" stroke="#737373" stroke-width="1"/>
<text x="470.5" y="868.6" font-size="11" font-weight="normal" fill="#1b1b1b" stroke="#1b1b1b" stroke-width="0.2" textLength="389.5" lengthAdjust="spacing">proiettare ogni forza del diagramma di punto materiale su ciascuno dei due assi</text>
<rect x="465.5" y="889.5" width="241" height="16" fill="url(#gS)" stroke="#737373" stroke-width="1"/>
<text x="470.5" y="899.6" font-size="11" font-weight="normal" fill="#1b1b1b" stroke="#1b1b1b" stroke-width="0.2" textLength="228.5" lengthAdjust="spacing">capire più in dettaglio i tipi di moti componenti</text>
<rect x="465.5" y="909.5" width="225" height="16" fill="url(#gS)" stroke="#737373" stroke-width="1"/>
<text x="470.5" y="919.6" font-size="11" font-weight="normal" fill="#1e22b0" stroke="#1e22b0" stroke-width="0.2" textLength="212.5" lengthAdjust="spacing">fare l'elenco dei dati a disposizione (Ipotesi)</text>
<rect x="465.5" y="929.5" width="253" height="16" fill="url(#gS)" stroke="#737373" stroke-width="1"/>
<text x="470.5" y="939.6" font-size="11" font-weight="normal" fill="#1e22b0" stroke="#1e22b0" stroke-width="0.2" textLength="240.5" lengthAdjust="spacing">scrivere tutte le definizioni pertinenti al problema</text>
<rect x="465.5" y="949.5" width="207" height="16" fill="url(#gS)" stroke="#737373" stroke-width="1"/>
<text x="470.5" y="959.6" font-size="11" font-weight="normal" fill="#1e22b0" stroke="#1e22b0" stroke-width="0.2" textLength="194.5" lengthAdjust="spacing">preparare conversioni di qualunque tipo</text>
<rect x="577.5" y="987.5" width="61" height="16" fill="url(#gS)" stroke="#737373" stroke-width="1"/>
<text x="582.5" y="997.6" font-size="11" font-weight="normal" fill="#1e22b0" stroke="#1e22b0" stroke-width="0.2" textLength="48.5" lengthAdjust="spacing">Proiezioni</text>
<rect x="577.5" y="1007.5" width="338" height="16" fill="url(#gS)" stroke="#737373" stroke-width="1"/>
<text x="582.5" y="1017.6" font-size="11" font-weight="normal" fill="#1e22b0" stroke="#1e22b0" stroke-width="0.2" textLength="325.5" lengthAdjust="spacing">Cambiamenti di sistema di riferimento (polare&lt;-&gt;cartesiano etc...)</text>
<rect x="577.5" y="1027.5" width="21" height="16" fill="url(#gS)" stroke="#737373" stroke-width="1"/>
<text x="582.5" y="1037.6" font-size="11" font-weight="normal" fill="#1e22b0" stroke="#1e22b0" stroke-width="0.2" textLength="8.5" lengthAdjust="spacing">...</text>
<rect x="465.5" y="1047.5" width="395" height="16" fill="url(#gS)" stroke="#737373" stroke-width="1"/>
<text x="470.5" y="1057.6" font-size="11" font-weight="normal" fill="#1e22b0" stroke="#1e22b0" stroke-width="0.2" textLength="382.5" lengthAdjust="spacing">scrivere per ognuno dei due assi (X,Y) tutte le equazioni pertinenti al problema</text>
<rect x="671.5" y="1085.5" width="55" height="16" fill="url(#gS)" stroke="#737373" stroke-width="1"/>
<text x="676.5" y="1095.6" font-size="11" font-weight="normal" fill="#1e22b0" stroke="#1e22b0" stroke-width="0.2" textLength="42.5" lengthAdjust="spacing">dinamica</text>
<rect x="671.5" y="1105.5" width="96" height="16" fill="url(#gS)" stroke="#737373" stroke-width="1"/>
<text x="676.5" y="1115.6" font-size="11" font-weight="normal" fill="#1e22b0" stroke="#1e22b0" stroke-width="0.2" textLength="83.5" lengthAdjust="spacing">lavoro ed energia</text>
<rect x="671.5" y="1125.5" width="64" height="16" fill="url(#gS)" stroke="#737373" stroke-width="1"/>
<text x="676.5" y="1135.6" font-size="11" font-weight="normal" fill="#1e22b0" stroke="#1e22b0" stroke-width="0.2" textLength="51.5" lengthAdjust="spacing">cinematica</text>
<rect x="671.5" y="1145.5" width="28" height="16" fill="url(#gS)" stroke="#737373" stroke-width="1"/>
<text x="676.5" y="1155.6" font-size="11" font-weight="normal" fill="#1e22b0" stroke="#1e22b0" stroke-width="0.2" textLength="15.5" lengthAdjust="spacing">urti</text>
<rect x="671.5" y="1165.5" width="37" height="16" fill="url(#gS)" stroke="#737373" stroke-width="1"/>
<text x="676.5" y="1175.6" font-size="11" font-weight="normal" fill="#1e22b0" stroke="#1e22b0" stroke-width="0.2" textLength="24.5" lengthAdjust="spacing">fluidi</text>
<rect x="671.5" y="1185.5" width="103" height="16" fill="url(#gS)" stroke="#737373" stroke-width="1"/>
<text x="676.5" y="1195.6" font-size="11" font-weight="normal" fill="#1e22b0" stroke="#1e22b0" stroke-width="0.2" textLength="90.5" lengthAdjust="spacing">elettromagnetismo</text>
<rect x="671.5" y="1205.5" width="101" height="17" fill="url(#gS)" stroke="#737373" stroke-width="1"/>
<text x="694.0" y="1216.6" font-size="11" font-weight="normal" fill="#1e22b0" stroke="#1e22b0" stroke-width="0.2" textLength="71.0" lengthAdjust="spacing">non pensare a:</text>
<rect x="726.5" y="1243.5" width="164" height="17" fill="url(#gS)" stroke="#737373" stroke-width="1"/>
<text x="731.5" y="1254.6" font-size="11" font-weight="normal" fill="#1e22b0" stroke="#1e22b0" stroke-width="0.2" textLength="151.5" lengthAdjust="spacing">quali variabili/dati mi mancano</text>
<rect x="726.5" y="1264.5" width="148" height="16" fill="url(#gS)" stroke="#737373" stroke-width="1"/>
<text x="731.5" y="1274.6" font-size="11" font-weight="normal" fill="#1e22b0" stroke="#1e22b0" stroke-width="0.2" textLength="135.5" lengthAdjust="spacing">quali variabili sono richieste</text>
<rect x="671.5" y="1284.5" width="271" height="16" fill="url(#gS)" stroke="#737373" stroke-width="1"/>
<text x="676.5" y="1294.6" font-size="11" font-weight="normal" fill="#1e22b0" stroke="#1e22b0" stroke-width="0.2" textLength="258.5" lengthAdjust="spacing">verifica le equazioni scritte con l'analisi dimensionale</text>
<rect x="465.5" y="1304.5" width="369" height="17" fill="url(#gS)" stroke="#737373" stroke-width="1"/>
<text x="488.0" y="1315.6" font-size="11" font-weight="normal" fill="#1b1b1b" stroke="#1b1b1b" stroke-width="0.2" textLength="339.0" lengthAdjust="spacing">passare al sottoproblema successivo prima di passare alla risoluzione</text>
<rect x="464.5" y="1386.5" width="117" height="16" fill="url(#gS)" stroke="#737373" stroke-width="1"/>
<text x="469.5" y="1396.6" font-size="11" font-weight="normal" fill="#1b1b1b" stroke="#1b1b1b" stroke-width="0.2" textLength="104.5" lengthAdjust="spacing">capire le tesi richieste</text>
<rect x="464.5" y="1406.5" width="216" height="16" fill="url(#gS)" stroke="#737373" stroke-width="1"/>
<text x="469.5" y="1416.6" font-size="11" font-weight="normal" fill="#1b1b1b" stroke="#1b1b1b" stroke-width="0.2" textLength="203.5" lengthAdjust="spacing">individuare eventuali domande intermedie</text>
<rect x="582.5" y="1444.5" width="204" height="16" fill="url(#gS)" stroke="#737373" stroke-width="1"/>
<text x="587.5" y="1454.6" font-size="11" font-weight="normal" fill="#1b1b1b" stroke="#1b1b1b" stroke-width="0.2" textLength="191.5" lengthAdjust="spacing">partire dalla prima domanda intermedia</text>
<rect x="582.5" y="1464.5" width="227" height="16" fill="url(#gS)" stroke="#737373" stroke-width="1"/>
<text x="587.5" y="1474.6" font-size="11" font-weight="normal" fill="#1b1b1b" stroke="#1b1b1b" stroke-width="0.2" textLength="214.5" lengthAdjust="spacing">risolverla con il metodo per la sola domanda</text>
<rect x="582.5" y="1484.5" width="266" height="16" fill="url(#gS)" stroke="#737373" stroke-width="1"/>
<text x="587.5" y="1494.6" font-size="11" font-weight="normal" fill="#1b1b1b" stroke="#1b1b1b" stroke-width="0.2" textLength="253.5" lengthAdjust="spacing">usarlo come dato iniziale per la domanda successiva</text>
<rect x="464.5" y="1504.5" width="101" height="16" fill="url(#gS)" stroke="#737373" stroke-width="1"/>
<text x="469.5" y="1514.6" font-size="11" font-weight="normal" fill="#1b1b1b" stroke="#1b1b1b" stroke-width="0.2" textLength="88.5" lengthAdjust="spacing">una sola domanda</text>
<rect x="524.5" y="1542.5" width="91" height="16" fill="url(#gS)" stroke="#737373" stroke-width="1"/>
<text x="529.5" y="1552.6" font-size="11" font-weight="normal" fill="#1b1b1b" stroke="#1b1b1b" stroke-width="0.2" textLength="78.5" lengthAdjust="spacing">partire dalla fine</text>
<rect x="524.5" y="1562.5" width="235" height="16" fill="url(#gS)" stroke="#737373" stroke-width="1"/>
<text x="529.5" y="1572.6" font-size="11" font-weight="normal" fill="#1b1b1b" stroke="#1b1b1b" stroke-width="0.2" textLength="222.5" lengthAdjust="spacing">far finta di sapere tutto quello che può servire</text>
<rect x="524.5" y="1582.5" width="366" height="16" fill="url(#gS)" stroke="#737373" stroke-width="1"/>
<text x="529.5" y="1592.6" font-size="11" font-weight="normal" fill="#d41e2a" stroke="#d41e2a" stroke-width="0.2" textLength="353.5" lengthAdjust="spacing">cercare tra tutte le equazioni QUELLE che contengono la variabile cercata</text>
<rect x="716.5" y="1620.5" width="228" height="28" fill="url(#gS)" stroke="#737373" stroke-width="1"/>
<text x="721.3" y="1631.0" font-size="11" font-weight="normal" fill="#1b1b1b" stroke="#1b1b1b" stroke-width="0.2" textLength="149.5" lengthAdjust="spacing">cercarla tra le equazioni scritte</text>
<text x="721.3" y="1643.0" font-size="11" font-weight="normal" fill="#1b1b1b" stroke="#1b1b1b" stroke-width="0.2" textLength="216.1" lengthAdjust="spacing">(o nuove, se ne avessi dimenticata qualcuna)</text>
<rect x="716.5" y="1652.5" width="114" height="16" fill="url(#gS)" stroke="#737373" stroke-width="1"/>
<text x="721.5" y="1662.6" font-size="11" font-weight="normal" fill="#1b1b1b" stroke="#1b1b1b" stroke-width="0.2" textLength="101.5" lengthAdjust="spacing">scegliere la più facile</text>
<rect x="716.5" y="1672.5" width="516" height="16" fill="url(#gS)" stroke="#737373" stroke-width="1"/>
<text x="721.5" y="1682.6" font-size="11" font-weight="normal" fill="#1b1b1b" stroke="#1b1b1b" stroke-width="0.2" textLength="503.5" lengthAdjust="spacing">se non porta a soluzione, procedere con l'equazione successiva che contenga la stessa variabile cercata</text>
<rect x="524.5" y="1692.5" width="342" height="16" fill="url(#gS)" stroke="#737373" stroke-width="1"/>
<text x="529.5" y="1702.6" font-size="11" font-weight="normal" fill="#1b1b1b" stroke="#1b1b1b" stroke-width="0.2" textLength="329.5" lengthAdjust="spacing">guardare quello che manca tra le altre variabili dell'equazione scelta</text>
<rect x="704.5" y="1730.5" width="107" height="16" fill="url(#gS)" stroke="#737373" stroke-width="1"/>
<text x="709.5" y="1740.6" font-size="11" font-weight="normal" fill="#1b1b1b" stroke="#1b1b1b" stroke-width="0.2" textLength="94.5" lengthAdjust="spacing">cercarlo nell'ordine:</text>
<rect x="767.5" y="1768.5" width="235" height="16" fill="url(#gS)" stroke="#737373" stroke-width="1"/>
<text x="772.5" y="1778.6" font-size="11" font-weight="normal" fill="#1b1b1b" stroke="#1b1b1b" stroke-width="0.2" textLength="222.5" lengthAdjust="spacing">nello stesso sottoproblema, stessa coordinata</text>
<rect x="767.5" y="1788.5" width="226" height="16" fill="url(#gS)" stroke="#737373" stroke-width="1"/>
<text x="772.5" y="1798.6" font-size="11" font-weight="normal" fill="#1b1b1b" stroke="#1b1b1b" stroke-width="0.2" textLength="213.5" lengthAdjust="spacing">nello stesso sottoproblema, altra coordinata</text>
<rect x="767.5" y="1808.5" width="295" height="16" fill="url(#gS)" stroke="#737373" stroke-width="1"/>
<text x="772.5" y="1818.6" font-size="11" font-weight="normal" fill="#1b1b1b" stroke="#1b1b1b" stroke-width="0.2" textLength="282.5" lengthAdjust="spacing">nel sottoproblema immediatamente precedente, adiacente</text>
<rect x="524.5" y="1828.5" width="173" height="16" fill="url(#gS)" stroke="#737373" stroke-width="1"/>
<text x="529.5" y="1838.6" font-size="11" font-weight="normal" fill="#1b1b1b" stroke="#1b1b1b" stroke-width="0.2" textLength="160.5" lengthAdjust="spacing">–n– equazioni con –m– incognite</text>
<rect x="620.5" y="1866.5" width="112" height="16" fill="url(#gS)" stroke="#737373" stroke-width="1"/>
<text x="625.5" y="1876.6" font-size="11" font-weight="normal" fill="#1b1b1b" stroke="#1b1b1b" stroke-width="0.2" textLength="99.5" lengthAdjust="spacing">sistema di equazioni</text>
<rect x="620.5" y="1886.5" width="180" height="28" fill="url(#gS)" stroke="#737373" stroke-width="1"/>
<text x="625.6" y="1897.0" font-size="11" font-weight="normal" fill="#1b1b1b" stroke="#1b1b1b" stroke-width="0.2" textLength="164.8" lengthAdjust="spacing">se SEMBRA mancare qualche dato,</text>
<text x="625.6" y="1909.0" font-size="11" font-weight="normal" fill="#1b1b1b" stroke="#1b1b1b" stroke-width="0.2" textLength="152.9" lengthAdjust="spacing">in genere è perchè si semplifica</text>
<rect x="524.5" y="1919.5" width="452" height="15" fill="url(#gS)" stroke="#737373" stroke-width="1"/>
<text x="529.5" y="1929.6" font-size="11" font-weight="normal" fill="#1b1b1b" stroke="#1b1b1b" stroke-width="0.2" textLength="439.5" lengthAdjust="spacing">lavorare sempre con le variabili, sostituire i dati numerici solo alla fine, all'ultima domanda</text>
<text x="692.5" y="556.8" font-size="11" font-weight="normal" fill="#1b1b1b" stroke="#1b1b1b" stroke-width="0.2" textLength="91.1" lengthAdjust="spacing">qualunque metodo</text>
<text x="714.5" y="576.6" font-size="11" font-weight="normal" fill="#1b1b1b" stroke="#1b1b1b" stroke-width="0.2" textLength="225.1" lengthAdjust="spacing">usare preferibilmente teoremi lavoro e energia</text>
<text x="714.5" y="596.5" font-size="11" font-weight="normal" fill="#1b1b1b" stroke="#1b1b1b" stroke-width="0.2" textLength="353.5" lengthAdjust="spacing">cinematica e dinamica per il moto vario con calcolo derivate e/o integrali</text>
<text x="992.6" y="115.0" font-size="20" font-weight="normal" fill="#1e2a1e" stroke="#1e2a1e" stroke-width="0.2" textLength="190.4" lengthAdjust="spacingAndGlyphs">METODO SCIENTIFICO</text>
<text x="1104.0" y="195.8" font-size="19" font-weight="normal" fill="#111" stroke="#111" stroke-width="0.2" textLength="114.4" lengthAdjust="spacing">Osservazione</text>
<text x="1104.0" y="224.5" font-size="19" font-weight="normal" fill="#111" stroke="#111" stroke-width="0.2" textLength="103.0" lengthAdjust="spacing">Spiegazione</text>
<text x="1120.0" y="274.0" font-size="19" font-weight="normal" fill="#111" stroke="#111" stroke-width="0.2" textLength="64.0" lengthAdjust="spacing">Verifica</text>
<text x="1142" y="338" font-size="15" font-weight="bold" fill="#111" stroke="#111" stroke-width="0.5" textLength="21" lengthAdjust="spacingAndGlyphs">OK</text>
<text x="981.5" y="1110.0" font-size="17" font-weight="normal" fill="#1b1bcc" stroke="#1b1bcc" stroke-width="0.2" textLength="284.1" lengthAdjust="spacing">costruzione del sistema di equazioni</text>
<rect x="602" y="645.5" width="16" height="15.5" rx="4" fill="url(#gBadge1)"/>
<text x="610" y="657.8" font-size="12" font-weight="bold" fill="#fff" text-anchor="middle">1</text>
<rect x="602" y="800" width="16" height="15.5" rx="4" fill="url(#gBadge2)"/>
<text x="610" y="812.3" font-size="12" font-weight="bold" fill="#fff" text-anchor="middle">2</text>
<g transform="translate(392,126) scale(1.0)"><circle cx="0" cy="0" r="12" fill="url(#gEmo)" stroke="#c63218" stroke-width="0.6"/><path d="M-6.5,-7 L-2,-3.5 M6.5,-7 L2,-3.5" stroke="#8c1e0c" stroke-width="2" fill="none" stroke-linecap="round"/><path d="M-8,-2.5 L-2,0 Q-3,3 -5,3 Q-8,2.5 -8,-2.5 Z" fill="#fff"/><path d="M8,-2.5 L2,0 Q3,3 5,3 Q8,2.5 8,-2.5 Z" fill="#fff"/><rect x="-4.5" y="4.5" width="9" height="4.5" fill="#fff"/><path d="M-4.5,6.7 H4.5" stroke="#e8c8c0" stroke-width="0.7"/><path d="M-3.5,10.5 Q0,12.5 3.5,10.5" stroke="#e02010" stroke-width="1.4" fill="none"/></g>
<g transform="translate(683,1214) scale(0.6666666666666666)"><circle cx="0" cy="0" r="12" fill="url(#gEmo)" stroke="#c63218" stroke-width="0.6"/><path d="M-6.5,-7 L-2,-3.5 M6.5,-7 L2,-3.5" stroke="#8c1e0c" stroke-width="2" fill="none" stroke-linecap="round"/><path d="M-8,-2.5 L-2,0 Q-3,3 -5,3 Q-8,2.5 -8,-2.5 Z" fill="#fff"/><path d="M8,-2.5 L2,0 Q3,3 5,3 Q8,2.5 8,-2.5 Z" fill="#fff"/><rect x="-4.5" y="4.5" width="9" height="4.5" fill="#fff"/><path d="M-4.5,6.7 H4.5" stroke="#e8c8c0" stroke-width="0.7"/><path d="M-3.5,10.5 Q0,12.5 3.5,10.5" stroke="#e02010" stroke-width="1.4" fill="none"/></g>
<g transform="translate(477,1313) scale(0.6666666666666666)"><circle cx="0" cy="0" r="12" fill="url(#gEmo)" stroke="#c63218" stroke-width="0.6"/><path d="M-6.5,-7 L-2,-3.5 M6.5,-7 L2,-3.5" stroke="#8c1e0c" stroke-width="2" fill="none" stroke-linecap="round"/><path d="M-8,-2.5 L-2,0 Q-3,3 -5,3 Q-8,2.5 -8,-2.5 Z" fill="#fff"/><path d="M8,-2.5 L2,0 Q3,3 5,3 Q8,2.5 8,-2.5 Z" fill="#fff"/><rect x="-4.5" y="4.5" width="9" height="4.5" fill="#fff"/><path d="M-4.5,6.7 H4.5" stroke="#e8c8c0" stroke-width="0.7"/><path d="M-3.5,10.5 Q0,12.5 3.5,10.5" stroke="#e02010" stroke-width="1.4" fill="none"/></g>
<circle cx="520.3" cy="279.5" r="4.6" fill="url(#gMinus)" stroke="#b4c2dc" stroke-width="0.9"/><path d="M518.0999999999999,279.5 H522.5" stroke="#7f8fb8" stroke-width="1.1"/>
<circle cx="456.6" cy="431.2" r="4.6" fill="url(#gMinus)" stroke="#b4c2dc" stroke-width="0.9"/><path d="M454.40000000000003,431.2 H458.8" stroke="#7f8fb8" stroke-width="1.1"/>
<circle cx="606.2" cy="530.9" r="4.6" fill="url(#gMinus)" stroke="#b4c2dc" stroke-width="0.9"/><path d="M604.0,530.9 H608.4000000000001" stroke="#7f8fb8" stroke-width="1.1"/>
<circle cx="672.5" cy="554.2" r="4.6" fill="url(#gMinus)" stroke="#b4c2dc" stroke-width="0.9"/><path d="M670.3,554.2 H674.7" stroke="#7f8fb8" stroke-width="1.1"/>
<circle cx="694.4" cy="584.1" r="4.6" fill="url(#gMinus)" stroke="#b4c2dc" stroke-width="0.9"/><path d="M692.1999999999999,584.1 H696.6" stroke="#7f8fb8" stroke-width="1.1"/>
<circle cx="589.1" cy="629" r="4.6" fill="url(#gMinus)" stroke="#b4c2dc" stroke-width="0.9"/><path d="M586.9,629 H591.3000000000001" stroke="#7f8fb8" stroke-width="1.1"/>
<circle cx="644" cy="668" r="4.6" fill="url(#gMinus)" stroke="#b4c2dc" stroke-width="0.9"/><path d="M641.8,668 H646.2" stroke="#7f8fb8" stroke-width="1.1"/>
<circle cx="794.3" cy="706.5" r="4.6" fill="url(#gMinus)" stroke="#b4c2dc" stroke-width="0.9"/><path d="M792.0999999999999,706.5 H796.5" stroke="#7f8fb8" stroke-width="1.1"/>
<circle cx="743.7" cy="764" r="4.6" fill="url(#gMinus)" stroke="#b4c2dc" stroke-width="0.9"/><path d="M741.5,764 H745.9000000000001" stroke="#7f8fb8" stroke-width="1.1"/>
<circle cx="638" cy="822.7" r="4.6" fill="url(#gMinus)" stroke="#b4c2dc" stroke-width="0.9"/><path d="M635.8,822.7 H640.2" stroke="#7f8fb8" stroke-width="1.1"/>
<circle cx="568.6" cy="972.8" r="4.6" fill="url(#gMinus)" stroke="#b4c2dc" stroke-width="0.9"/><path d="M566.4,972.8 H570.8000000000001" stroke="#7f8fb8" stroke-width="1.1"/>
<circle cx="662.4" cy="1070" r="4.6" fill="url(#gMinus)" stroke="#b4c2dc" stroke-width="0.9"/><path d="M660.1999999999999,1070 H664.6" stroke="#7f8fb8" stroke-width="1.1"/>
<circle cx="716.8" cy="1229.1" r="4.6" fill="url(#gMinus)" stroke="#b4c2dc" stroke-width="0.9"/><path d="M714.5999999999999,1229.1 H719.0" stroke="#7f8fb8" stroke-width="1.1"/>
<circle cx="455.5" cy="1371.3" r="4.6" fill="url(#gMinus)" stroke="#b4c2dc" stroke-width="0.9"/><path d="M453.3,1371.3 H457.7" stroke="#7f8fb8" stroke-width="1.1"/>
<circle cx="572.6" cy="1429" r="4.6" fill="url(#gMinus)" stroke="#b4c2dc" stroke-width="0.9"/><path d="M570.4,1429 H574.8000000000001" stroke="#7f8fb8" stroke-width="1.1"/>
<circle cx="515.2" cy="1527.3" r="4.6" fill="url(#gMinus)" stroke="#b4c2dc" stroke-width="0.9"/><path d="M513.0,1527.3 H517.4000000000001" stroke="#7f8fb8" stroke-width="1.1"/>
<circle cx="707.2" cy="1605.1" r="4.6" fill="url(#gMinus)" stroke="#b4c2dc" stroke-width="0.9"/><path d="M705.0,1605.1 H709.4000000000001" stroke="#7f8fb8" stroke-width="1.1"/>
<circle cx="695.2" cy="1715.6" r="4.6" fill="url(#gMinus)" stroke="#b4c2dc" stroke-width="0.9"/><path d="M693.0,1715.6 H697.4000000000001" stroke="#7f8fb8" stroke-width="1.1"/>
<circle cx="758.3" cy="1753.3" r="4.6" fill="url(#gMinus)" stroke="#b4c2dc" stroke-width="0.9"/><path d="M756.0999999999999,1753.3 H760.5" stroke="#7f8fb8" stroke-width="1.1"/>
<circle cx="611.3" cy="1850.9" r="4.6" fill="url(#gMinus)" stroke="#b4c2dc" stroke-width="0.9"/><path d="M609.0999999999999,1850.9 H613.5" stroke="#7f8fb8" stroke-width="1.1"/>
<circle cx="1089" cy="163.5" r="4.6" fill="url(#gMinus)" stroke="#b4c2dc" stroke-width="0.9"/><path d="M1086.8,163.5 H1091.2" stroke="#7f8fb8" stroke-width="1.1"/>
<circle cx="1154.4" cy="308" r="4.6" fill="url(#gMinus)" stroke="#b4c2dc" stroke-width="0.9"/><path d="M1152.2,308 H1156.6000000000001" stroke="#7f8fb8" stroke-width="1.1"/>
<circle cx="600.4" cy="225.2" r="4.7" fill="#e4eef8" stroke="#7d8c9c" stroke-width="1.3"/><path d="M597.8,225.2 H603.0 M600.4,222.6 V227.79999999999998" stroke="#223344" stroke-width="1.3"/>
<circle cx="588.5" cy="377.5" r="4.7" fill="#e4eef8" stroke="#7d8c9c" stroke-width="1.3"/><path d="M585.9,377.5 H591.1 M588.5,374.9 V380.1" stroke="#223344" stroke-width="1.3"/>
<circle cx="601" cy="469.4" r="4.7" fill="#e4eef8" stroke="#7d8c9c" stroke-width="1.3"/><path d="M598.4,469.4 H603.6 M601,466.79999999999995 V472.0" stroke="#223344" stroke-width="1.3"/>
<circle cx="611.6" cy="500.2" r="4.7" fill="#e4eef8" stroke="#7d8c9c" stroke-width="1.3"/><path d="M609.0,500.2 H614.2 M611.6,497.59999999999997 V502.8" stroke="#223344" stroke-width="1.3"/>
<circle cx="666.6" cy="881.7" r="4.7" fill="#e4eef8" stroke="#7d8c9c" stroke-width="1.3"/><path d="M664.0,881.7 H669.2 M666.6,879.1 V884.3000000000001" stroke="#223344" stroke-width="1.3"/>
<circle cx="774.4" cy="1113.2" r="4.7" fill="#e4eef8" stroke="#7d8c9c" stroke-width="1.3"/><path d="M771.8,1113.2 H777.0 M774.4,1110.6000000000001 V1115.8" stroke="#223344" stroke-width="1.3"/>
<circle cx="750.3" cy="1941.3" r="4.7" fill="#e4eef8" stroke="#7d8c9c" stroke-width="1.3"/><path d="M747.6999999999999,1941.3 H752.9 M750.3,1938.7 V1943.8999999999999" stroke="#223344" stroke-width="1.3"/>
<path d="M828.7,185.6 C878.8,180.6 900.7,122.3 950,109.7" fill="none" stroke="#e8141e" stroke-width="4.2" stroke-dasharray="4.2,4.3"/>
<path d="M946,103 L958,110 L946,117.5" fill="none" stroke="#e8141e" stroke-width="4.5"/>
<path d="M1209,269 C1255,269 1301,253 1301,227 C1301,202 1265,190 1229,190" fill="none" stroke="#dc1420" stroke-width="2.7" stroke-dasharray="2.7,3"/>
<path d="M1236,183.5 L1227,190 L1236,196.5" fill="none" stroke="#dc1420" stroke-width="3.2"/>
<path d="M477.8,1320.9 C78.7,1347.9 5,491 371,421.5" fill="none" stroke="#1466c8" stroke-width="3.8" stroke-dasharray="3.8,3.9"/>
<path d="M378,421.5 L362,415.5 L367.5,423.5 L365,430.5 Z" fill="#1466c8" stroke="#1466c8" stroke-width="1" stroke-linejoin="round"/>
<path d="M582,1480.4 C361,1492.9 770.4,1517.7 567,1513" fill="none" stroke="#1466c8" stroke-width="3" stroke-dasharray="3,3.3"/>
<path d="M573.5,1507.5 L564.5,1513.2 L573.5,1518.5" fill="none" stroke="#1466c8" stroke-width="3.4"/>
<path d="M734,1688.6 C691.6,1706.8 294.3,1615.5 530,1597.7" fill="none" stroke="#1466c8" stroke-width="3" stroke-dasharray="3,3.3"/>
<path d="M522.5,1593 L532,1598.2 L523,1604" fill="none" stroke="#1466c8" stroke-width="3.3"/>
<rect x="1285" y="219" width="31" height="16" fill="#f2f3f7"/><text x="1287.5" y="231" font-size="11.5" font-weight="bold" fill="#d81e28" textLength="25.8" lengthAdjust="spacingAndGlyphs">FAIL</text>
<rect x="48" y="886" width="180" height="20" fill="#f2f3f7"/>
<text x="52.0" y="903.7" font-size="19.5" font-weight="normal" fill="#1b1bcc" stroke="#1b1bcc" stroke-width="0.2" textLength="171.0" lengthAdjust="spacingAndGlyphs">Loop sottoproblemi</text>
</svg></body></html>
